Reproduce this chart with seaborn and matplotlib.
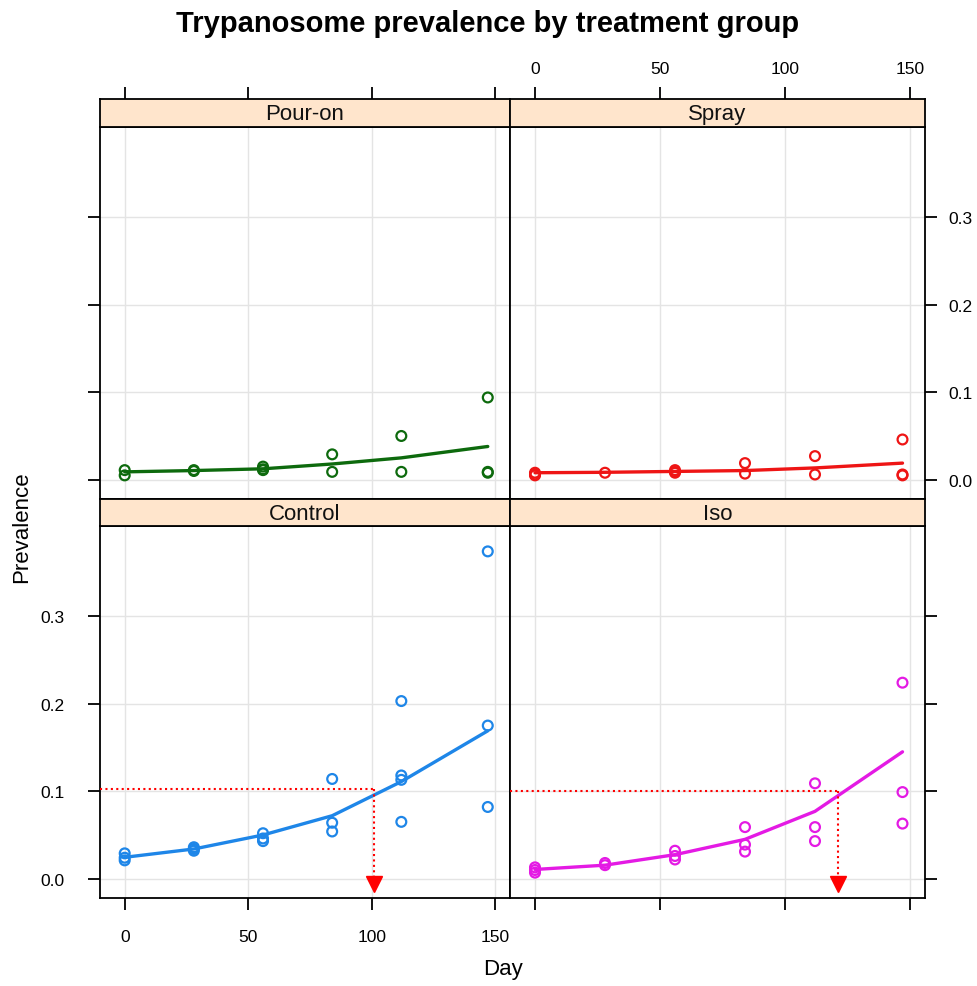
import matplotlib
matplotlib.use("Agg")
import matplotlib.pyplot as plt
import numpy as np
import pandas as pd
import seaborn as sns

# ---- data -------------------------------------------------------------
groups = ["Pour-on", "Spray", "Control", "Iso"]
days = [0, 28, 56, 84, 112, 147]

# observed herd prevalence per sampling day (several herds per day)
pouron_obs = [[0.011, 0.005], [0.011, 0.010], [0.015, 0.012, 0.011],
              [0.029, 0.009], [0.050, 0.009], [0.094, 0.009, 0.008]]
spray_obs = [[0.008, 0.006, 0.005], [0.008], [0.011, 0.009, 0.008],
             [0.019, 0.007], [0.027, 0.006], [0.046, 0.006, 0.005]]
control_obs = [[0.029, 0.024, 0.021], [0.036, 0.034, 0.032], [0.052, 0.046, 0.043],
               [0.114, 0.064, 0.054], [0.203, 0.118, 0.113, 0.065], [0.374, 0.175, 0.082]]
iso_obs = [[0.013, 0.010, 0.007], [0.018, 0.0155], [0.032, 0.026, 0.022],
           [0.059, 0.039, 0.031], [0.109, 0.059, 0.043], [0.224, 0.099, 0.063]]

# fitted prevalence curve per group
pouron_fit = [0.009, 0.0105, 0.0125, 0.018, 0.025, 0.038]
spray_fit = [0.008, 0.0085, 0.0095, 0.0105, 0.0135, 0.019]
control_fit = [0.0245, 0.034, 0.050, 0.072, 0.111, 0.169]
iso_fit = [0.0106, 0.0155, 0.0275, 0.045, 0.077, 0.145]

# day at which the fitted curve reaches 10% prevalence
threshold_groups = ["Control", "Iso"]
threshold_level = [0.102, 0.100]
threshold_day = [101, 121]

day_ticks = [0, 50, 100, 150]
prev_ticks = [0.0, 0.1, 0.2, 0.3]

obs_by_group = dict(zip(groups, [pouron_obs, spray_obs, control_obs, iso_obs]))
fit_by_group = dict(zip(groups, [pouron_fit, spray_fit, control_fit, iso_fit]))
colors = {"Pour-on": "#0d6a0d", "Spray": "#ee1515", "Control": "#1e86e8", "Iso": "#e41ae4"}

obs_rows = []
for g in groups:
    for d, vals in zip(days, obs_by_group[g]):
        for v in vals:
            obs_rows.append({"group": g, "day": d, "prev": v})
obs_df = pd.DataFrame(obs_rows)
fit_df = pd.DataFrame([{"group": g, "day": d, "fit": v}
                       for g in groups for d, v in zip(days, fit_by_group[g])])

# ---- style ------------------------------------------------------------
sns.set_theme(style="white")
plt.rcParams["font.family"] = ["Liberation Sans", "DejaVu Sans"]
plt.rcParams["axes.linewidth"] = 1.3
plt.rcParams["text.color"] = "black"
plt.rcParams["xtick.color"] = "black"
plt.rcParams["ytick.color"] = "black"
plt.rcParams["xtick.labelcolor"] = "black"
plt.rcParams["ytick.labelcolor"] = "black"

W, H = 977, 987
fig = plt.figure(figsize=(W / 100, H / 100), dpi=100)


def rect(x0, y0, x1, y1):
    return [x0 / W, 1 - y1 / H, (x1 - x0) / W, (y1 - y0) / H]


cols_px = [(100, 510), (510, 925)]
rows_px = [((100, 128), (128, 500)), ((500, 527), (527, 899))]
layout = {"Pour-on": (0, 0), "Spray": (0, 1), "Control": (1, 0), "Iso": (1, 1)}

XLIM = (-10, 156)
YLIM = (-0.022, 0.403)
strip_fc = "#ffe5cc"
tick_kw = dict(direction="out", length=8.5, width=1.3, colors="black", labelsize=12.5)

for g in groups:
    r, c = layout[g]
    (sx0, sx1) = cols_px[c]
    (st0, st1), (py0, py1) = rows_px[r]
    ax = fig.add_axes(rect(sx0, py0, sx1, py1))
    strip = fig.add_axes(rect(sx0, st0, sx1, st1))

    # points and fitted curve
    sub = obs_df[obs_df.group == g]
    sns.scatterplot(data=sub, x="day", y="prev", ax=ax, color=colors[g],
                    s=50, marker="o", linewidth=1.6, legend=False, zorder=3)
    coll = ax.collections[-1]
    coll.set_facecolor("none")
    coll.set_edgecolor(colors[g])
    sns.lineplot(data=fit_df[fit_df.group == g], x="day", y="fit", ax=ax,
                 color=colors[g], lw=2.4, legend=False, zorder=4)

    ax.set_xlim(*XLIM)
    ax.set_ylim(*YLIM)
    ax.set_xticks(day_ticks)
    ax.set_yticks(prev_ticks)
    ax.set_yticklabels([f"{v:.1f}" for v in prev_ticks])
    ax.grid(True, color="#e4e4e4", lw=1.0)
    ax.set_axisbelow(True)
    ax.set_xlabel("")
    ax.set_ylabel("")
    for sp in ax.spines.values():
        sp.set_color("black")
        sp.set_linewidth(1.3)
    ax.tick_params(axis="both", **tick_kw)

    # lattice-style alternating axes
    if c == 0:
        ax.tick_params(axis="y", left=True, right=False, labelleft=(r == 1), pad=17)
    else:
        ax.tick_params(axis="y", left=False, right=True, labelleft=False,
                       labelright=(r == 0), pad=8)
    if r == 1:
        ax.tick_params(axis="x", bottom=True, labelbottom=(c == 0), pad=14)
    else:
        ax.tick_params(axis="x", bottom=False, labelbottom=False)

    # 10% prevalence crossing
    if g in threshold_groups:
        i = threshold_groups.index(g)
        lvl, dd = threshold_level[i], threshold_day[i]
        arrow_y = -0.0065
        ax.plot([XLIM[0], dd], [lvl, lvl], color="red", lw=1.5, ls=(0, (1, 1.6)), zorder=5)
        ax.plot([dd, dd], [lvl, arrow_y], color="red", lw=1.5, ls=(0, (1, 1.6)), zorder=5)
        ax.plot([dd], [arrow_y], marker="v", color="red", ms=11, zorder=6, clip_on=False)

    # strip
    strip.set_facecolor(strip_fc)
    strip.set_xlim(*XLIM)
    strip.set_yticks([])
    for sp in strip.spines.values():
        sp.set_color("black")
        sp.set_linewidth(1.3)
    strip.text(0.5, 0.48, g, transform=strip.transAxes, ha="center", va="center",
               fontsize=16, color="#111111")
    if r == 0:
        strip.set_xticks(day_ticks)
        strip.tick_params(axis="x", **tick_kw)
        strip.tick_params(axis="x", bottom=False, labelbottom=False, top=True,
                          labeltop=(c == 1), pad=8)
    else:
        strip.set_xticks([])

fig.text(488 / W, 1 - 24 / H, "Trypanosome prevalence by treatment group",
         ha="center", va="center", fontsize=21, fontweight="bold", color="black")
fig.text(503 / W, 1 - 970 / H, "Day", ha="center", va="center", fontsize=16, color="black")
fig.text(22 / W, 1 - 527 / H, "Prevalence", ha="center", va="center",
         rotation=90, fontsize=16, color="black")

fig.savefig("out.png", dpi=100)
